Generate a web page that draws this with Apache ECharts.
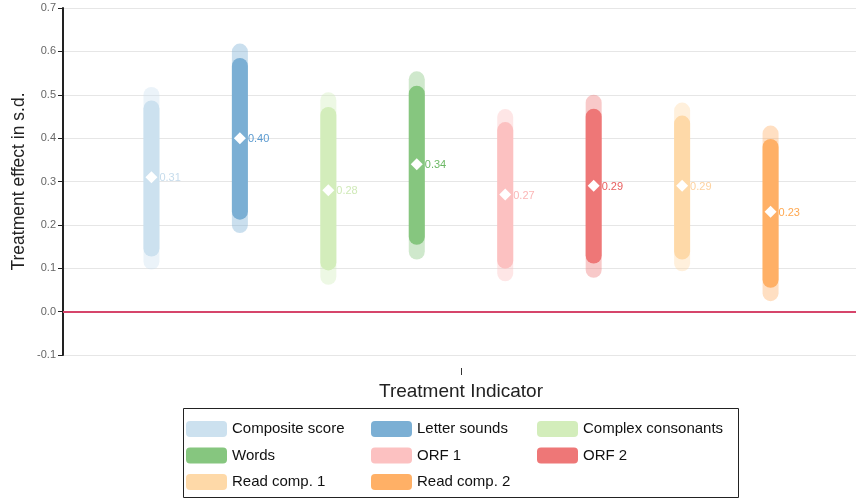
<!DOCTYPE html>
<html>
<head>
<meta charset="utf-8">
<script src="https://cdn.jsdelivr.net/npm/echarts@6/dist/echarts.min.js"></script>
<style>html,body{margin:0;padding:0;background:#fff}#c{width:856px;height:499px}</style>
</head>
<body>
<div id="c"></div>
<script>
// ---- data ----
var names = ['Composite score','Letter sounds','Complex consonants','Words','ORF 1','ORF 2','Read comp. 1','Read comp. 2'];
var estimates = [0.31, 0.40, 0.28, 0.34, 0.27, 0.29, 0.29, 0.23];
var outerLow  = [0.097, 0.181, 0.062, 0.120, 0.070, 0.078, 0.093, 0.024];
var outerHigh = [0.518, 0.618, 0.506, 0.554, 0.467, 0.500, 0.482, 0.429];
var innerLow  = [0.127, 0.212, 0.095, 0.154, 0.099, 0.111, 0.120, 0.055];
var innerHigh = [0.487, 0.585, 0.472, 0.521, 0.437, 0.468, 0.452, 0.398];
var categories = ['Treatment Indicator'];
var yTicks = [-0.1, 0.0, 0.1, 0.2, 0.3, 0.4, 0.5, 0.6, 0.7];

var colors = ['#cce1ef','#7bafd4','#d3edbb','#86c67f','#fcc1c1','#ee7777','#fed9a8','#ffb066'];
var labelColors = ['#c6dcec','#5a9ad0','#d0eab8','#6cb865','#fbb6b6','#e85f5f','#fdd2a0','#ffa850'];

var chart = echarts.init(document.getElementById('c'));
var n = names.length;

function makeSeries(i) {
  return {
    name: names[i],
    type: 'custom',
    itemStyle: { color: colors[i] },
    data: [[0, estimates[i], outerLow[i], outerHigh[i], innerLow[i], innerHigh[i]]],
    renderItem: function (params, api) {
      var band = api.size([1, 0])[0];
      var step = band / (n + 1);
      var c = api.coord([api.value(0), api.value(1)]);
      var x = c[0] + (i - (n - 1) / 2) * step;
      var w = 16;
      var oT = api.coord([0, api.value(3)])[1], oB = api.coord([0, api.value(2)])[1];
      var iT = api.coord([0, api.value(5)])[1], iB = api.coord([0, api.value(4)])[1];
      var d = 6;
      return {
        type: 'group',
        children: [
          { type: 'rect', shape: { x: x - w / 2, y: oT, width: w, height: oB - oT, r: w / 2 },
            style: { fill: colors[i], opacity: 0.4 } },
          { type: 'rect', shape: { x: x - w / 2, y: iT, width: w, height: iB - iT, r: w / 2 },
            style: { fill: colors[i] } },
          { type: 'polygon', shape: { points: [[x, c[1] - d], [x + d, c[1]], [x, c[1] + d], [x - d, c[1]]] },
            style: { fill: '#ffffff' } },
          { type: 'text', x: x + 8, y: c[1] + 1,
            style: { text: api.value(1).toFixed(2), fill: labelColors[i], font: '11px "Liberation Sans", Arial, sans-serif',
                     textAlign: 'left', textVerticalAlign: 'middle' } }
        ]
      };
    }
  };
}

var series = [];
for (var i = 0; i < n; i++) series.push(makeSeries(i));
series[0].markLine = {
  silent: true, symbol: 'none', label: { show: false },
  lineStyle: { color: '#d6456b', width: 2, type: 'solid' },
  data: [{ yAxis: 0 }]
};

var legendBase = {
  orient: 'vertical', itemWidth: 41, itemHeight: 16, itemGap: 10.5, icon: 'roundRect',
  textStyle: { fontSize: 15, color: '#111', fontFamily: '"Liberation Sans", Arial, sans-serif' },
  top: 421, padding: 0, selectedMode: false
};

chart.setOption({
  animation: false,
  textStyle: { fontFamily: '"Liberation Sans", Arial, sans-serif' },
  grid: { left: 63, right: -3, top: 8, bottom: 144, containLabel: false, outerBoundsMode: 'none' },
  xAxis: {
    type: 'category', data: [''], offset: 13,
    axisLine: { show: false, onZero: false },
    axisTick: { show: true, alignWithLabel: true, length: 7, lineStyle: { color: '#333' } },
    axisLabel: { show: false },
    splitLine: { show: false },
    name: categories[0], nameLocation: 'middle', nameGap: 14,
    nameTextStyle: { fontSize: 19, color: '#222' }
  },
  yAxis: {
    type: 'value', min: yTicks[0], max: yTicks[yTicks.length - 1], interval: 0.1,
    axisLine: { show: true, lineStyle: { color: '#222', width: 2 } },
    axisTick: { show: true, length: 5, lineStyle: { color: '#222', width: 1 } },
    axisLabel: { color: '#666', fontSize: 11, margin: 7, formatter: function (v) { return v.toFixed(1); } },
    splitLine: { show: true, lineStyle: { color: '#e6e6e6', width: 1 } },
    name: 'Treatment effect in s.d.', nameLocation: 'middle', nameGap: 35, nameMoveOverlap: false,
    nameTextStyle: { fontSize: 17.5, color: '#222' }
  },
  legend: [
    Object.assign({}, legendBase, { left: 186, data: [names[0], names[3], names[6]] }),
    Object.assign({}, legendBase, { left: 371, data: [names[1], names[4], names[7]] }),
    Object.assign({}, legendBase, { left: 537, data: [names[2], names[5]] })
  ],
  graphic: [{
    type: 'rect', z: -1, silent: true,
    shape: { x: 183.5, y: 408.5, width: 555, height: 89 },
    style: { fill: 'none', stroke: '#222', lineWidth: 1 }
  }],
  series: series
});
</script>
</body>
</html>
